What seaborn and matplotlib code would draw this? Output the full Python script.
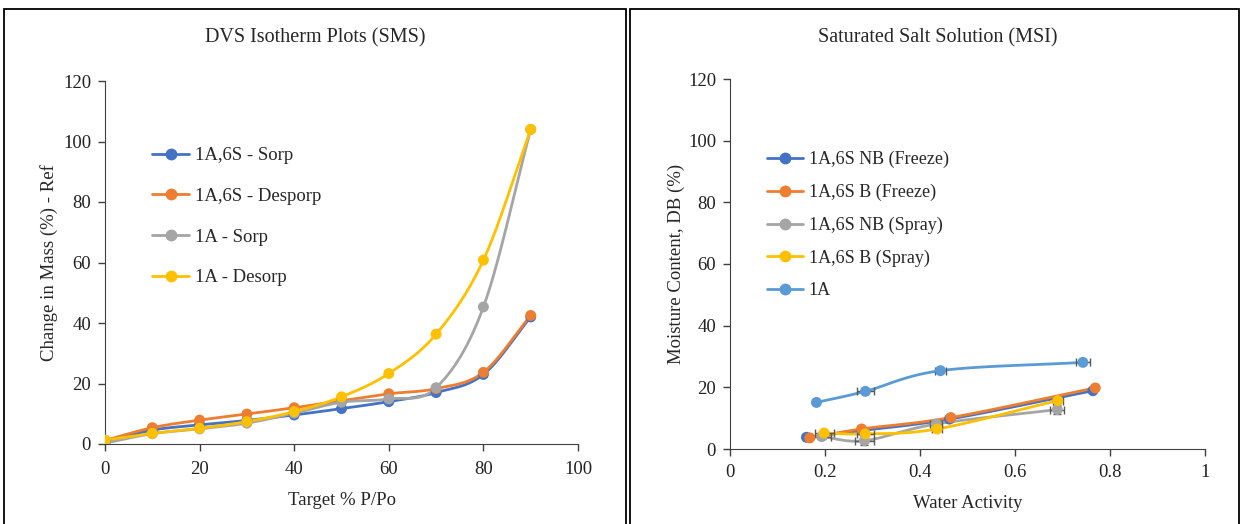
import numpy as np
import pandas as pd
import matplotlib
matplotlib.use("Agg")
import matplotlib.pyplot as plt
from matplotlib.lines import Line2D
from matplotlib.patches import Rectangle
import seaborn as sns

# ---------------- data: left panel (DVS) ----------------
rh_target = [0, 10, 20, 30, 40, 50, 60, 70, 80, 90]
sorp_1a6s = [0.8, 4.6, 6.3, 7.8, 9.6, 11.7, 14.0, 17.0, 23.0, 42.0]
desorp_1a6s = [1.2, 5.4, 7.9, 9.9, 12.0, 14.3, 16.6, 18.3, 23.7, 42.5]
sorp_1a = [0.3, 3.4, 5.0, 6.9, 10.2, 13.8, 14.9, 18.6, 45.3, 104.0]
desorp_1a = [1.3, 3.5, 5.2, 7.4, 10.7, 15.6, 23.3, 36.3, 60.8, 104.0]
left_labels = ["1A,6S - Sorp", "1A,6S - Desporp", "1A - Sorp", "1A - Desorp"]

# ---------------- data: right panel (MSI) ----------------
aw_nb_freeze = [0.161, 0.278, 0.462, 0.764]
mc_nb_freeze = [3.8, 6.0, 9.7, 18.9]
aw_b_freeze = [0.168, 0.277, 0.465, 0.769]
mc_b_freeze = [3.6, 6.5, 10.2, 19.8]
aw_nb_spray = [0.193, 0.283, 0.434, 0.689]
mc_nb_spray = [4.0, 2.7, 8.1, 12.8]
aw_b_spray = [0.198, 0.285, 0.436, 0.690]
mc_b_spray = [5.2, 4.9, 6.5, 15.7]
aw_1a = [0.182, 0.285, 0.443, 0.743]
mc_1a = [15.1, 18.7, 25.4, 28.1]
# error bars
xerr_1a = [0.0, 0.018, 0.012, 0.015]
xerr_nb_spray = [0.02, 0.02, 0.012, 0.015]
yerr_nb_spray = [0.8, 1.4, 1.0, 1.5]
xerr_b_spray = [0.02, 0.018, 0.01, 0.01]
right_labels = ["1A,6S NB (Freeze)", "1A,6S B (Freeze)", "1A,6S NB (Spray)",
                "1A,6S B (Spray)", "1A"]

C_BLUE = "#4472C4"
C_ORANGE = "#ED7D31"
C_GRAY = "#A5A5A5"
C_YELLOW = "#FFC000"
C_LBLUE = "#5B9BD5"

sns.set_style("ticks")
plt.rcParams["font.family"] = ["Liberation Serif", "DejaVu Serif"]
plt.rcParams["axes.edgecolor"] = "#404040"
plt.rcParams["xtick.color"] = "#404040"
plt.rcParams["ytick.color"] = "#404040"
plt.rcParams["xtick.labelcolor"] = "#222222"
plt.rcParams["ytick.labelcolor"] = "#222222"


def smooth(x, y, n=30):
    """Catmull-Rom curve through the given points (display smoothing only)."""
    x = np.asarray(x, float)
    y = np.asarray(y, float)
    P = np.column_stack([x, y])
    P = np.vstack([P[0] - (P[1] - P[0]), P, P[-1] + (P[-1] - P[-2])])
    out = []
    for i in range(1, len(P) - 2):
        p0, p1, p2, p3 = P[i - 1], P[i], P[i + 1], P[i + 2]
        t = np.linspace(0, 1, n)[:, None]
        seg = 0.5 * ((2 * p1) + (-p0 + p2) * t + (2 * p0 - 5 * p1 + 4 * p2 - p3) * t ** 2
                     + (-p0 + 3 * p1 - 3 * p2 + p3) * t ** 3)
        out.append(seg if i == 1 else seg[1:])
    out = np.vstack(out)
    return out[:, 0], out[:, 1]


fig = plt.figure(figsize=(12.41, 5.24), dpi=100)
W, H = 1241, 524

# panel frames
fig.patches.append(Rectangle((4 / W, -0.05), (626 - 4) / W, 1.05 - 9 / H,
                             transform=fig.transFigure, fill=False,
                             edgecolor="black", lw=1.3))
fig.patches.append(Rectangle((630 / W, -0.05), (1239 - 630) / W, 1.05 - 9 / H,
                             transform=fig.transFigure, fill=False,
                             edgecolor="black", lw=1.3))

ax1 = fig.add_axes([105 / W, (H - 444) / H, 473 / W, 363 / H])
ax2 = fig.add_axes([730 / W, (H - 449) / H, 475 / W, 370 / H])

FS = 13.5
MS = 62

# ---- left ----
left_series = [sorp_1a6s, desorp_1a6s, sorp_1a, desorp_1a]
left_colors = [C_BLUE, C_ORANGE, C_GRAY, C_YELLOW]
for ys, col, lab in zip(left_series, left_colors, left_labels):
    sx, sy = smooth(rh_target, ys)
    ax1.plot(sx, sy, color=col, lw=2, zorder=2, solid_capstyle="round")
    sns.scatterplot(x=rh_target, y=ys, color=col, s=MS, edgecolor="none",
                    ax=ax1, zorder=3, legend=False)

ax1.set_xlim(0, 100)
ax1.set_ylim(0, 120)
ax1.set_xticks(np.arange(0, 101, 20))
ax1.set_yticks(np.arange(0, 121, 20))
ax1.tick_params(labelsize=FS, length=5, width=1)
ax1.tick_params(axis="x", pad=7)
ax1.tick_params(axis="y", pad=5)
sns.despine(ax=ax1)
ax1.set_xlabel("Target % P/Po", fontsize=FS)
ax1.set_ylabel("Change in Mass (%) - Ref", fontsize=FS)
ax1.xaxis.set_label_coords(0.5, -0.132)
ax1.yaxis.set_label_coords(-0.099, 0.5)
h1 = [Line2D([0], [0], color=c, lw=2, marker="o", markersize=7.5) for c in left_colors]
ax1.legend(h1, left_labels, loc="upper left", bbox_to_anchor=(0.083, 0.838),
           frameon=False, fontsize=FS, labelspacing=1.25, handlelength=2.0,
           handletextpad=0.3, borderaxespad=0)

# ---- right ----
right_x = [aw_nb_freeze, aw_b_freeze, aw_nb_spray, aw_b_spray, aw_1a]
right_y = [mc_nb_freeze, mc_b_freeze, mc_nb_spray, mc_b_spray, mc_1a]
right_colors = [C_BLUE, C_ORANGE, C_GRAY, C_YELLOW, C_LBLUE]
right_xerr = [None, None, xerr_nb_spray, xerr_b_spray, xerr_1a]
right_yerr = [None, None, yerr_nb_spray, None, None]
for xs, ys, col, xe, ye in zip(right_x, right_y, right_colors, right_xerr, right_yerr):
    sx, sy = smooth(xs, ys)
    ax2.plot(sx, sy, color=col, lw=2, zorder=2)
    if xe is not None or ye is not None:
        ax2.errorbar(xs, ys, xerr=xe, yerr=ye, fmt="none", ecolor="#595959",
                     elinewidth=1, capsize=3, zorder=2.5)
    sns.scatterplot(x=xs, y=ys, color=col, s=MS, edgecolor="none",
                    ax=ax2, zorder=3, legend=False)

ax2.set_xlim(0, 1)
ax2.set_ylim(0, 120)
ax2.set_xticks([0, 0.2, 0.4, 0.6, 0.8, 1])
ax2.set_xticklabels(["0", "0.2", "0.4", "0.6", "0.8", "1"])
ax2.set_yticks(np.arange(0, 121, 20))
ax2.tick_params(labelsize=FS, length=5, width=1)
ax2.tick_params(axis="x", pad=6)
ax2.tick_params(axis="y", pad=5)
sns.despine(ax=ax2)
ax2.set_xlabel("Water Activity", fontsize=FS)
ax2.set_ylabel("Moisture Content, DB (%)", fontsize=FS)
ax2.xaxis.set_label_coords(0.5, -0.125)
ax2.yaxis.set_label_coords(-0.095, 0.5)
h2 = [Line2D([0], [0], color=c, lw=2, marker="o", markersize=7.5) for c in right_colors]
ax2.legend(h2, right_labels, loc="upper left", bbox_to_anchor=(0.063, 0.825),
           frameon=False, fontsize=FS - 0.5, labelspacing=0.86, handlelength=2.0,
           handletextpad=0.3, borderaxespad=0)

# titles
fig.text(315 / W, 1 - 38 / H, "DVS Isotherm Plots (SMS)", ha="center", va="center",
         fontsize=14.5)
fig.text(938 / W, 1 - 38 / H, "Saturated Salt Solution (MSI)", ha="center", va="center",
         fontsize=14.5)

fig.savefig("out.png", dpi=100)
